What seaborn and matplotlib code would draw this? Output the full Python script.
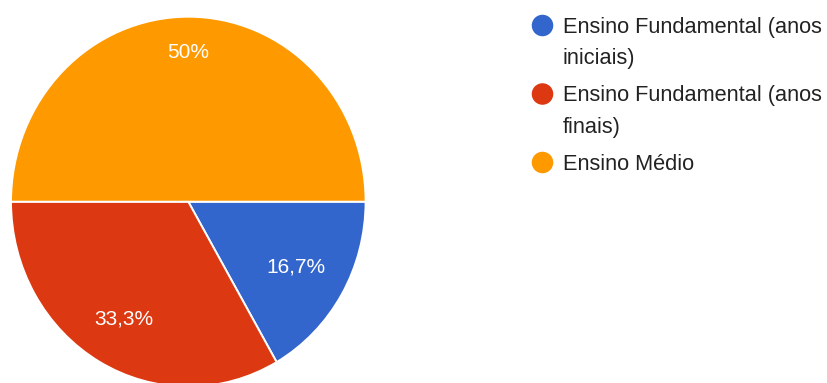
import matplotlib
matplotlib.use("Agg")
import matplotlib.pyplot as plt
import numpy as np
import seaborn as sns

# Share of respondents per school level (percent)
categories = [
    "Ensino Fundamental (anos iniciais)",
    "Ensino Fundamental (anos finais)",
    "Ensino Médio",
]
legend_lines = [
    ["Ensino Fundamental (anos", "iniciais)"],
    ["Ensino Fundamental (anos", "finais)"],
    ["Ensino Médio"],
]
shares = [16.7, 33.3, 50.0]
colors = ["#3366CC", "#DC3912", "#FF9900"]

sns.set_theme(style="white")
plt.rcParams["font.family"] = ["Liberation Sans", "DejaVu Sans"]

W, H = 828, 383
fig = plt.figure(figsize=(W / 100, H / 100), dpi=100)
fig.patch.set_facecolor("white")

# Pie axes, placed in pixel terms (slightly taller than wide)
px_left, px_right, px_top, px_bottom = 11.0, 365.6, 16.7, 386.7
ax = fig.add_axes([
    px_left / W,
    (H - px_bottom) / H,
    (px_right - px_left) / W,
    (px_bottom - px_top) / H,
])

wedges, _ = ax.pie(
    shares,
    colors=colors,
    startangle=0,
    counterclock=False,
    radius=1.0,
    wedgeprops=dict(edgecolor="white", linewidth=1.4),
)
ax.set_aspect("auto")
ax.set_xlim(-1, 1)
ax.set_ylim(-1, 1)
ax.set_axis_off()


def pct_label(v):
    s = f"{v:.1f}".replace(".", ",")
    return s[:-2] + "%" if s.endswith(",0") else s + "%"


# Percentage labels at each wedge's mid-angle
label_dist = [0.70, 0.73, 0.806]
for w, v, d in zip(wedges, shares, label_dist):
    mid = np.deg2rad((w.theta1 + w.theta2) / 2)
    ax.text(d * np.cos(mid), d * np.sin(mid), pct_label(v),
            ha="center", va="center", color="white", fontsize=15)

# Legend drawn on an overlay in pixel coordinates
lax = fig.add_axes([0, 0, 1, 1])
lax.set_xlim(0, W)
lax.set_ylim(H, 0)
lax.set_axis_off()
lax.patch.set_alpha(0)

marker_x, text_x = 542.5, 563.0
y_base = 33.0
entry_step = 68.5
wrap_step = 31.0
for i, (lines, c) in enumerate(zip(legend_lines, colors)):
    base = y_base + i * entry_step
    lax.scatter([marker_x], [base - 7.5], s=21.5 ** 2 * 0.52, color=c,
                edgecolors="none")
    for j, line in enumerate(lines):
        lax.text(text_x, base + j * wrap_step, line, ha="left",
                 va="baseline", color="#222222", fontsize=15.7)

fig.savefig("out.png", dpi=100, facecolor="white")
